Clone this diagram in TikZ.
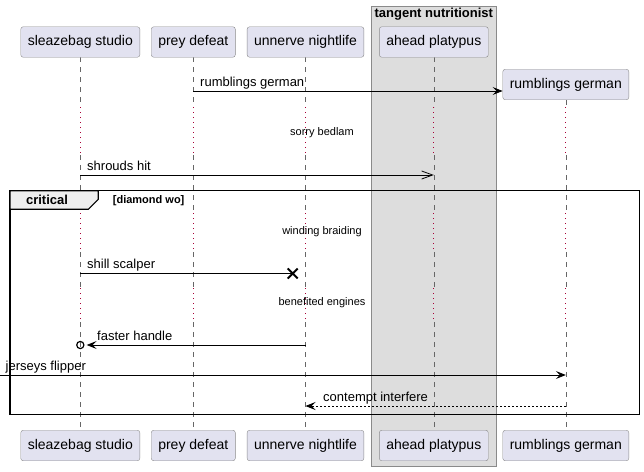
\documentclass[tikz,border=0pt]{standalone}
\usepackage{fontspec}
\setmainfont{Liberation Sans}
\usetikzlibrary{arrows.meta,positioning}
\definecolor{partfill}{HTML}{E2E2F0}
\definecolor{partline}{HTML}{8A8A8A}
\definecolor{lifegray}{HTML}{666666}
\definecolor{delayred}{HTML}{A80036}
\definecolor{boxgray}{HTML}{DDDDDD}
\definecolor{tabgray}{HTML}{EEEEEE}
\begin{document}
\begin{tikzpicture}[x=1pt,y=-1pt,
    part/.style={draw=partline,fill=partfill,rounded corners=2.5pt,minimum height=30.5pt,
      inner xsep=7pt,font=\fontsize{14}{16}\selectfont},
    life/.style={draw=lifegray,line width=0.6pt,dash pattern=on 5pt off 5pt},
    delay/.style={draw=delayred,line width=1pt,dash pattern=on 1pt off 4pt},
    msg/.style={line width=0.8pt},
    msglabel/.style={anchor=base west,inner sep=0pt,font=\fontsize{13}{15}\selectfont},
    delaylabel/.style={inner sep=0pt,font=\fontsize{11}{13}\selectfont},
    fill head/.style={-{Stealth[length=10pt,width=8pt,inset=4pt]}},
    open head/.style={-{Straight Barb[length=11pt,width=8pt,line width=0.8pt]}}]
    \useasboundingbox (0,0) rectangle (644,471);

    % Define the y values
    \def\ytop{42}
    \def\ybot{445.5}
    \def\ylifeend{430}

    % The box round ahead platypus
    \draw[draw=partline,fill=boxgray] (371.3,6) rectangle (496.3,466);
    \node[font=\bfseries\fontsize{13}{15}\selectfont,inner sep=0pt] (tangent) at (433.8,14.5) {tangent nutritionist};

    % Lifeline anchor points
    \coordinate (sleaze) at (80.3,0);
    \coordinate (prey) at (193.3,0);
    \coordinate (unnerve) at (305.5,0);
    \coordinate (ahead) at (433.8,0);
    \coordinate (rumbl) at (565.8,0);

    % Lifelines, with the delays dotted
    \foreach \p/\s in {sleaze/57, prey/57, unnerve/57, ahead/57, rumbl/100} {
        \draw[life] (\p |- 0,\s) -- (\p |- 0,107);
        \draw[delay] (\p |- 0,107) -- (\p |- 0,155);
        \draw[life] (\p |- 0,155) -- (\p |- 0,213);
        \draw[delay] (\p |- 0,213) -- (\p |- 0,252);
        \draw[life] (\p |- 0,252) -- (\p |- 0,288);
        \draw[delay] (\p |- 0,288) -- (\p |- 0,322);
        \draw[life] (\p |- 0,322) -- (\p |- 0,\ylifeend);
    }

    % Participants, top and bottom
    \node[part] (sleazeT) at (80.3,\ytop) {sleazebag studio};
    \node[part] (preyT) at (193.3,\ytop) {prey defeat};
    \node[part] (unnerveT) at (305.5,\ytop) {unnerve nightlife};
    \node[part] (aheadT) at (433.8,\ytop) {ahead platypus};
    \node[part] (rumblT) at (565.8,84.5) {rumblings german};
    \node[part] (sleazeB) at (80.3,\ybot) {sleazebag studio};
    \node[part] (preyB) at (193.3,\ybot) {prey defeat};
    \node[part] (unnerveB) at (305.5,\ybot) {unnerve nightlife};
    \node[part] (aheadB) at (433.8,\ybot) {ahead platypus};
    \node[part] (rumblB) at (565.8,\ybot) {rumblings german};

    % rumblings german
    \coordinate (m1) at (prey |- 0,91);
    \draw[msg,fill head] (m1) -- (rumblT.west |- m1);
    \node[msglabel] (l1) at (200,86.5) {rumblings german};

    % first delay
    \node[delaylabel] (d1) at (322,133) {sorry bedlam};

    % shrouds hit
    \coordinate (m2a) at (sleaze |- 0,175);
    \coordinate (m2b) at (ahead |- 0,175);
    \draw[msg,open head] (m2a) -- (m2b);
    \node[msglabel] (l2) at (87,170.5) {shrouds hit};

    % critical frame
    \draw[line width=1.5pt] (10,190.7) rectangle (639.3,414.3);
    \draw[line width=1.2pt,fill=tabgray] (10,190.7) -- (98.3,190.7) -- (98.3,199.3)
        -- (88.3,209.3) -- (10,209.3) -- cycle;
    \node[font=\bfseries\fontsize{13}{15}\selectfont,inner sep=0pt] (crit) at (47,200) {critical};
    \node[font=\bfseries\fontsize{11}{13}\selectfont,inner sep=0pt,anchor=west] (guard) at (112.7,200.5) {[diamond wo]};

    % second delay
    \node[delaylabel] (d2) at (322,231.7) {winding braiding};

    % shill scalper, ends in a cross
    \coordinate (m3a) at (sleaze |- 0,273.5);
    \coordinate (m3b) at (292.7,273.5);
    \draw[msg] (m3a) -- (m3b);
    \draw[line width=2pt] ([shift={(-5,-5)}]m3b) -- ([shift={(5,5)}]m3b)
        ([shift={(-5,5)}]m3b) -- ([shift={(5,-5)}]m3b);
    \node[msglabel] (l3) at (87,268.5) {shill scalper};

    % third delay
    \node[delaylabel] (d3) at (322,303) {benefited engines};

    % faster handle, with a circle
    \coordinate (m4a) at (unnerve |- 0,345);
    \coordinate (m4b) at (86.7,345);
    \coordinate (m4c) at (sleaze |- 0,345);
    \draw[msg,fill head] (m4a) -- (m4b);
    \draw[line width=1.2pt] (m4c) circle (3.6pt);
    \node[msglabel] (l4) at (97,340) {faster handle};

    % jerseys flipper, from outside
    \coordinate (m5a) at (-1,375);
    \coordinate (m5b) at (rumbl |- 0,375);
    \draw[msg,fill head] (m5a) -- (m5b);
    \node[msglabel] (l5) at (5.5,370.5) {jerseys flipper};

    % contempt interfere, dashed reply
    \coordinate (m6a) at (rumbl |- 0,406);
    \coordinate (m6b) at (unnerve |- 0,406);
    \draw[msg,fill head,dash pattern=on 2pt off 2pt] (m6a) -- (m6b);
    \node[msglabel] (l6) at (323,401.5) {contempt interfere};

\end{tikzpicture}
\end{document}
